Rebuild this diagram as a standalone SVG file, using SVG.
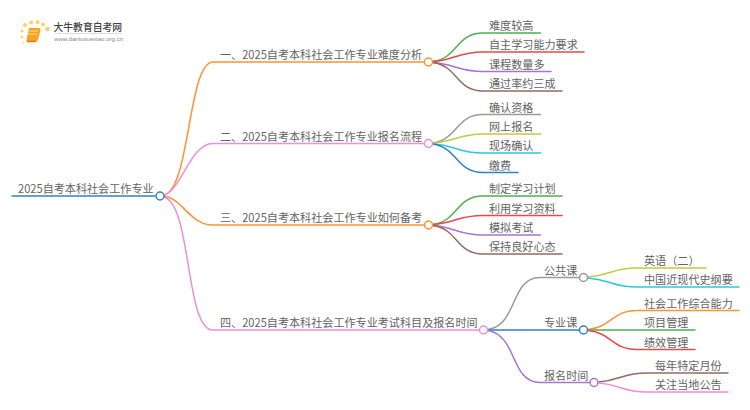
<svg xmlns="http://www.w3.org/2000/svg" width="750" height="410" viewBox="0 0 750 410">
<style>
text{font-family:"Noto Sans CJK SC","Noto Sans",sans-serif;font-size:11.1px;fill:#636363}
.c{fill:none;stroke-width:1.5;stroke-linecap:round}
.n{fill:#fff;stroke-width:1.5}
.or{stroke:#ff9232}.pk{stroke:#ef8fd6}.gn{stroke:#4cb050}.rd{stroke:#ea4848}.pu{stroke:#a774d0}.br{stroke:#946a60}.gy{stroke:#9a9a9a}.ol{stroke:#c8c83c}.cy{stroke:#2cc8da}.bl{stroke:#2f83c5}
</style>
<rect width="750" height="410" fill="#fff"/>
<g id="connectors">
<path class="c bl" d="M12 196H155"/>
<path class="c or" d="M164 195C190 190 188 62 213 62H424"/>
<path class="c pk" d="M164 195C182 190 190 143.500 213 143.500H424"/>
<path class="c or" d="M164 196C182 198 190 225 213 225H424"/>
<path class="c pk" d="M164 197C192 205 185 330 213 330H479"/>
<path class="c gn" d="M433 61.500C458 58 456 33 483 33H540.500"/>
<path class="c rd" d="M433 61.500C455 60 458 52 483 52H584"/>
<path class="c pu" d="M433 62.500C455 64 458 71.500 483 71.500H551"/>
<path class="c br" d="M433 62.500C458 66 456 91 483 91H562"/>
<path class="c gy" d="M433 143C458 139 456 114.500 483 114.500H540.500"/>
<path class="c ol" d="M433 143C455 142 458 134 483 134H540.500"/>
<path class="c cy" d="M433 144C455 145 458 153 483 153H540.500"/>
<path class="c bl" d="M433 144C458 148 456 172.500 483 172.500H518"/>
<path class="c gn" d="M433 224.500C458 221 456 196 483 196H562"/>
<path class="c rd" d="M433 224.500C455 223 458 215.500 483 215.500H562"/>
<path class="c pu" d="M433 225.500C455 227 458 235 483 235H540.500"/>
<path class="c br" d="M433 225.500C458 229 456 254 483 254H562"/>
<path class="c gy" d="M488 329.500C518 325 510 277.500 540 277.500H579"/>
<path class="c bl" d="M488 330H579"/>
<path class="c pu" d="M488 330.500C518 336 510 382.500 540 382.500H590"/>
<path class="c ol" d="M588 277C612 275 612 268 637 268H706"/>
<path class="c cy" d="M588 278C612 280 612 287 637 287H739"/>
<path class="c or" d="M588 329.500C612 327 612 310.500 637 310.500H739"/>
<path class="c gn" d="M588 330H695"/>
<path class="c rd" d="M588 330.500C612 333 612 349.500 637 349.500H695"/>
<path class="c br" d="M599 382C622 380 622 373 647 373H728"/>
<path class="c pk" d="M599 383C622 385 622 392 647 392H728"/>
</g>
<g id="logo">
<path d="M29 28L39 28Q41 28 40.500 30L38 40Q37.500 42 35 42L28 42Q26 42 26.500 40Z" fill="#f5a623"/>
<path d="M29 31H38M28 34H37" stroke="#ffd98a" stroke-width="1"/>
<path d="M27 41.500H36" stroke="#e07b10" stroke-width="1.500"/>
<g fill="#fbd264"><circle cx="25" cy="25" r="2"/><circle cx="31" cy="22.500" r="2"/><circle cx="37.500" cy="22" r="2"/><circle cx="43" cy="24.500" r="2"/><circle cx="47.500" cy="29" r="2.300"/><circle cx="22" cy="31" r="1.500"/><circle cx="22" cy="37" r="1.300"/><circle cx="23.500" cy="42.500" r="1"/></g>
<text x="53.500" y="31" style="font-size:9.800px;font-weight:500;fill:#444">大牛教育自考网</text>
<path d="M54 33.500H121" stroke="#ddd" stroke-width="1"/>
<text x="54" y="41" style="font-family:'Liberation Sans',sans-serif;font-size:6.100px;fill:#888">www.daniuxuexiao.org.cn</text>
</g>
<g id="root"><text x="18" y="193">2025自考本科社会工作专业</text><circle class="n bl" cx="160" cy="196" r="4"/></g>
<g id="b1"><text x="220" y="59">一、2025自考本科社会工作专业难度分析</text><circle class="n or" cx="428.500" cy="62" r="4"/></g>
<g id="b2"><text x="220" y="140.500">二、2025自考本科社会工作专业报名流程</text><circle class="n pk" cx="428.500" cy="143.500" r="4"/></g>
<g id="b3"><text x="220" y="222">三、2025自考本科社会工作专业如何备考</text><circle class="n or" cx="428.500" cy="225" r="4"/></g>
<g id="b4"><text x="220" y="327">四、2025自考本科社会工作专业考试科目及报名时间</text><circle class="n pk" cx="483.500" cy="330" r="4"/></g>
<g id="l1"><text x="489" y="30">难度较高</text></g>
<g id="l2"><text x="489" y="49">自主学习能力要求</text></g>
<g id="l3"><text x="489" y="68.500">课程数量多</text></g>
<g id="l4"><text x="489" y="88">通过率约三成</text></g>
<g id="l5"><text x="489" y="111.500">确认资格</text></g>
<g id="l6"><text x="489" y="131">网上报名</text></g>
<g id="l7"><text x="489" y="150">现场确认</text></g>
<g id="l8"><text x="489" y="169.500">缴费</text></g>
<g id="l9"><text x="489" y="193">制定学习计划</text></g>
<g id="l10"><text x="489" y="212.500">利用学习资料</text></g>
<g id="l11"><text x="489" y="232">模拟考试</text></g>
<g id="l12"><text x="489" y="251">保持良好心态</text></g>
<g id="s1"><text x="544" y="274.500">公共课</text><circle class="n gy" cx="583.500" cy="277.500" r="4"/></g>
<g id="s2"><text x="544" y="327">专业课</text><circle class="n bl" cx="583.500" cy="330" r="4"/></g>
<g id="s3"><text x="544" y="379.500">报名时间</text><circle class="n pu" cx="594" cy="382.500" r="4"/></g>
<g id="l13"><text x="644" y="265">英语（二）</text></g>
<g id="l14"><text x="644" y="284">中国近现代史纲要</text></g>
<g id="l15"><text x="644" y="307.500">社会工作综合能力</text></g>
<g id="l16"><text x="644" y="327">项目管理</text></g>
<g id="l17"><text x="644" y="346.500">绩效管理</text></g>
<g id="l18"><text x="655" y="370">每年特定月份</text></g>
<g id="l19"><text x="655" y="389">关注当地公告</text></g>
</svg>
